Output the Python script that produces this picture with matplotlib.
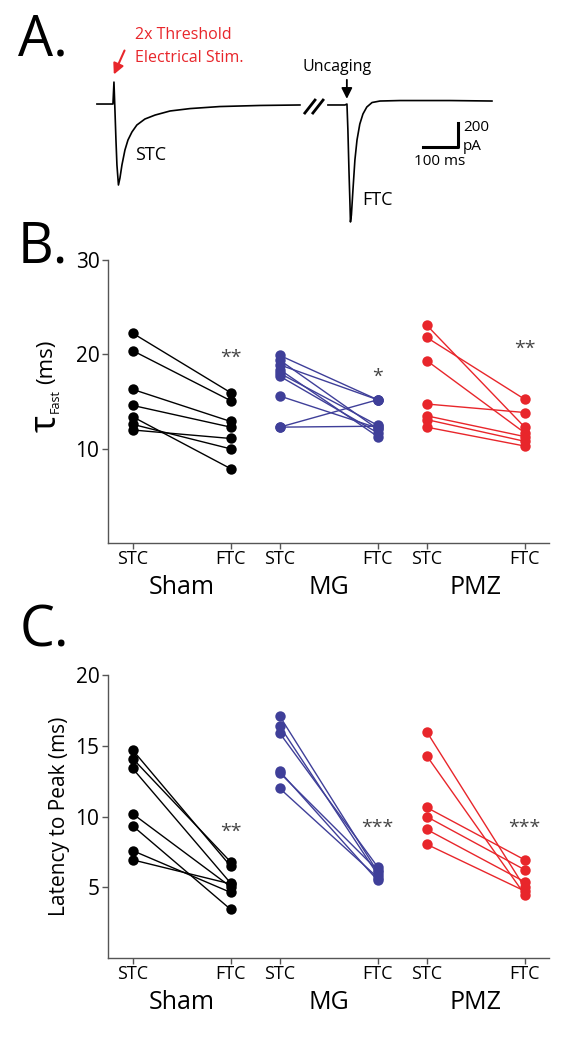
import matplotlib.pyplot as plt
import matplotlib.transforms as mtransforms
import numpy as np

plt.rcParams['font.family'] = ['Open Sans', 'DejaVu Sans']

# ---- panel A trace (time in ms, current in pA)
stc_t = [0, 45.7, 48.6, 51.4, 54.3, 57.1, 61.4, 65.7, 71.4, 80, 88.6, 100, 114, 137, 166, 209, 266, 351, 466, 580]
stc_i = [0, 0, 183, -50, -300, -508, -675, -617, -508, -383, -300, -233, -175, -125, -92, -58, -38, -21, -12, -8]
ftc_t = [660, 708.6, 714.3, 717, 720, 723, 724.3, 727, 731.4, 737, 743, 751, 760, 771, 786, 808.6, 865.7, 1008.6, 1128.6]
ftc_i = [-8, -8, 0, -217, -550, -842, -983, -925, -717, -467, -300, -167, -83, -25, 12.5, 25, 29, 29, 25]

# ---- panel B: tau fast (ms)
groups = ["Sham", "MG", "PMZ"]
cond_labels = ["STC", "FTC"]
sham_tau_stc = [22.25, 20.4, 16.3, 14.6, 13.4, 12.6, 12.0]
sham_tau_ftc = [15.95, 15.1, 12.9, 12.3, 7.9, 10.0, 11.1]
mg_tau_stc = [19.9, 19.4, 18.9, 18.4, 18.0, 17.7, 15.6, 12.3, 12.3]
mg_tau_ftc = [15.2, 12.1, 15.2, 11.3, 12.5, 11.7, 12.2, 15.2, 12.4]
pmz_tau_stc = [23.1, 21.8, 19.35, 14.75, 13.5, 13.1, 12.3]
pmz_tau_ftc = [12.3, 15.25, 11.7, 13.85, 11.3, 10.8, 10.3]
tau_sig = ["**", "*", "**"]
tau_sig_y = [19.6, 17.6, 20.6]

# ---- panel C: latency to peak (ms)
sham_lat_stc = [14.7, 14.1, 13.4, 10.2, 9.35, 7.6, 6.95]
sham_lat_ftc = [6.5, 6.8, 5.3, 5.05, 3.45, 4.65, 5.25]
mg_lat_stc = [17.1, 16.4, 15.9, 13.2, 13.1, 12.0]
mg_lat_ftc = [6.1, 5.9, 6.45, 5.5, 6.2, 5.7]
pmz_lat_stc = [16.0, 14.3, 10.65, 10.0, 9.1, 8.05]
pmz_lat_ftc = [5.0, 4.5, 6.95, 6.25, 5.4, 4.75]
lat_sig = ["**", "***", "***"]
lat_sig_y = [8.9, 9.2, 9.2]

colors = ["black", "#3f3f99", "#e8262b"]
positions = [(1, 2), (2.5, 3.5), (4, 5)]

W, H = 581, 1043
fig = plt.figure(figsize=(W / 100, H / 100), dpi=100)


def fx(px):
    return px / W


def fy(py):
    return 1 - py / H


# ================= panel A
ax_a = fig.add_axes([0, fy(230), 1, 230 / H])
ax_a.set_xlim(-277, 1383)
ax_a.set_ylim(-1050, 867)
ax_a.axis('off')
ax_a.plot(stc_t, stc_i, color='black', lw=1.2)
ax_a.plot(ftc_t, ftc_i, color='black', lw=1.2)
# break marks
ax_a.plot([594, 623], [-75, 33], color='black', lw=2)
ax_a.plot([617, 646], [-75, 33], color='black', lw=2)
# scale bar
ax_a.plot([931, 1031, 1031], [-358, -358, -158], color='black', lw=2.2)
ax_a.text(1046, -192, "200", fontsize=11, va='center', ha='left')
ax_a.text(1046, -358, "pA", fontsize=11, va='center', ha='left')
ax_a.text(980, -483, "100 ms", fontsize=11, va='center', ha='center')
ax_a.text(108, -425, "STC", fontsize=13, va='center', ha='left')
ax_a.text(757, -800, "FTC", fontsize=13, va='center', ha='left')
ax_a.annotate("", xy=(714, 20), xytext=(714, 225),
              arrowprops=dict(arrowstyle='-|>', color='black', lw=1.3, mutation_scale=16))
ax_a.text(686, 308, "Uncaging", fontsize=11.5, va='center', ha='center')
ax_a.annotate("", xy=(45, 225), xytext=(82, 467),
              arrowprops=dict(arrowstyle='-|>', color='#e8262b', lw=1.5, mutation_scale=16))
ax_a.text(108, 575, "2x Threshold", fontsize=11.5, va='center', ha='left', color='#e8262b')
ax_a.text(108, 383, "Electrical Stim.", fontsize=11.5, va='center', ha='left', color='#e8262b')

fig.text(fx(18), fy(41), "A.", fontsize=40, va='center', ha='left')
fig.text(fx(18), fy(248), "B.", fontsize=40, va='center', ha='left')
fig.text(fx(20), fy(632), "C.", fontsize=40, va='center', ha='left')


def paired_panel(ax, data, sig, sig_y, ymax, yticks):
    for (stc, ftc), (x0, x1), col in zip(data, positions, colors):
        for a, b in zip(stc, ftc):
            ax.plot([x0, x1], [a, b], color=col, lw=1.0, zorder=2)
        ax.plot([x0] * len(stc), stc, 'o', color=col, ms=7.5, mec='none', zorder=3)
        ax.plot([x1] * len(ftc), ftc, 'o', color=col, ms=7.5, mec='none', zorder=3)
    for s, y, (x0, x1) in zip(sig, sig_y, positions):
        ax.text(x1, y, s, fontsize=14, color='#444444', ha='center', va='center')
    ax.set_xlim(0.745, 5.25)
    ax.set_ylim(0, ymax)
    ax.set_yticks(yticks)
    ax.set_xticks([p for pair in positions for p in pair])
    ax.set_xticklabels(cond_labels * 3)
    for side in ['top', 'right']:
        ax.spines[side].set_visible(False)
    for side in ['left', 'bottom']:
        ax.spines[side].set_color('#555555')
        ax.spines[side].set_linewidth(1.0)
    ax.tick_params(axis='y', labelsize=15, length=4, width=1, color='#555555', pad=2)
    ax.tick_params(axis='x', labelsize=13, length=4, width=1, color='#555555', pad=1)
    trans = mtransforms.blended_transform_factory(ax.transData, ax.transAxes)
    for g, (x0, x1) in zip(groups, positions):
        ax.annotate(g, xy=((x0 + x1) / 2, 0), xycoords=trans, xytext=(0, -32),
                    textcoords='offset points', fontsize=18, ha='center', va='center')


ax_w = (5.25 - 0.745) * 98
ax_b = fig.add_axes([fx(107.7), fy(543.3), ax_w / W, 283.3 / H])
paired_panel(ax_b,
             [(sham_tau_stc, sham_tau_ftc), (mg_tau_stc, mg_tau_ftc), (pmz_tau_stc, pmz_tau_ftc)],
             tau_sig, tau_sig_y, 30, [10, 20, 30])
fig.text(fx(47), fy(423), "τ", fontsize=26, rotation=90, ha='center', va='center')
fig.text(fx(55), fy(401), "Fast", fontsize=9, rotation=90, ha='center', va='center')
fig.text(fx(47), fy(362), "(ms)", fontsize=16, rotation=90, ha='center', va='center')

ax_c = fig.add_axes([fx(107.7), fy(958.3), ax_w / W, 283.3 / H])
paired_panel(ax_c,
             [(sham_lat_stc, sham_lat_ftc), (mg_lat_stc, mg_lat_ftc), (pmz_lat_stc, pmz_lat_ftc)],
             lat_sig, lat_sig_y, 20, [5, 10, 15, 20])
ax_c.set_ylabel("Latency to Peak (ms)", fontsize=15, labelpad=4)

fig.savefig("out.png", dpi=100)
